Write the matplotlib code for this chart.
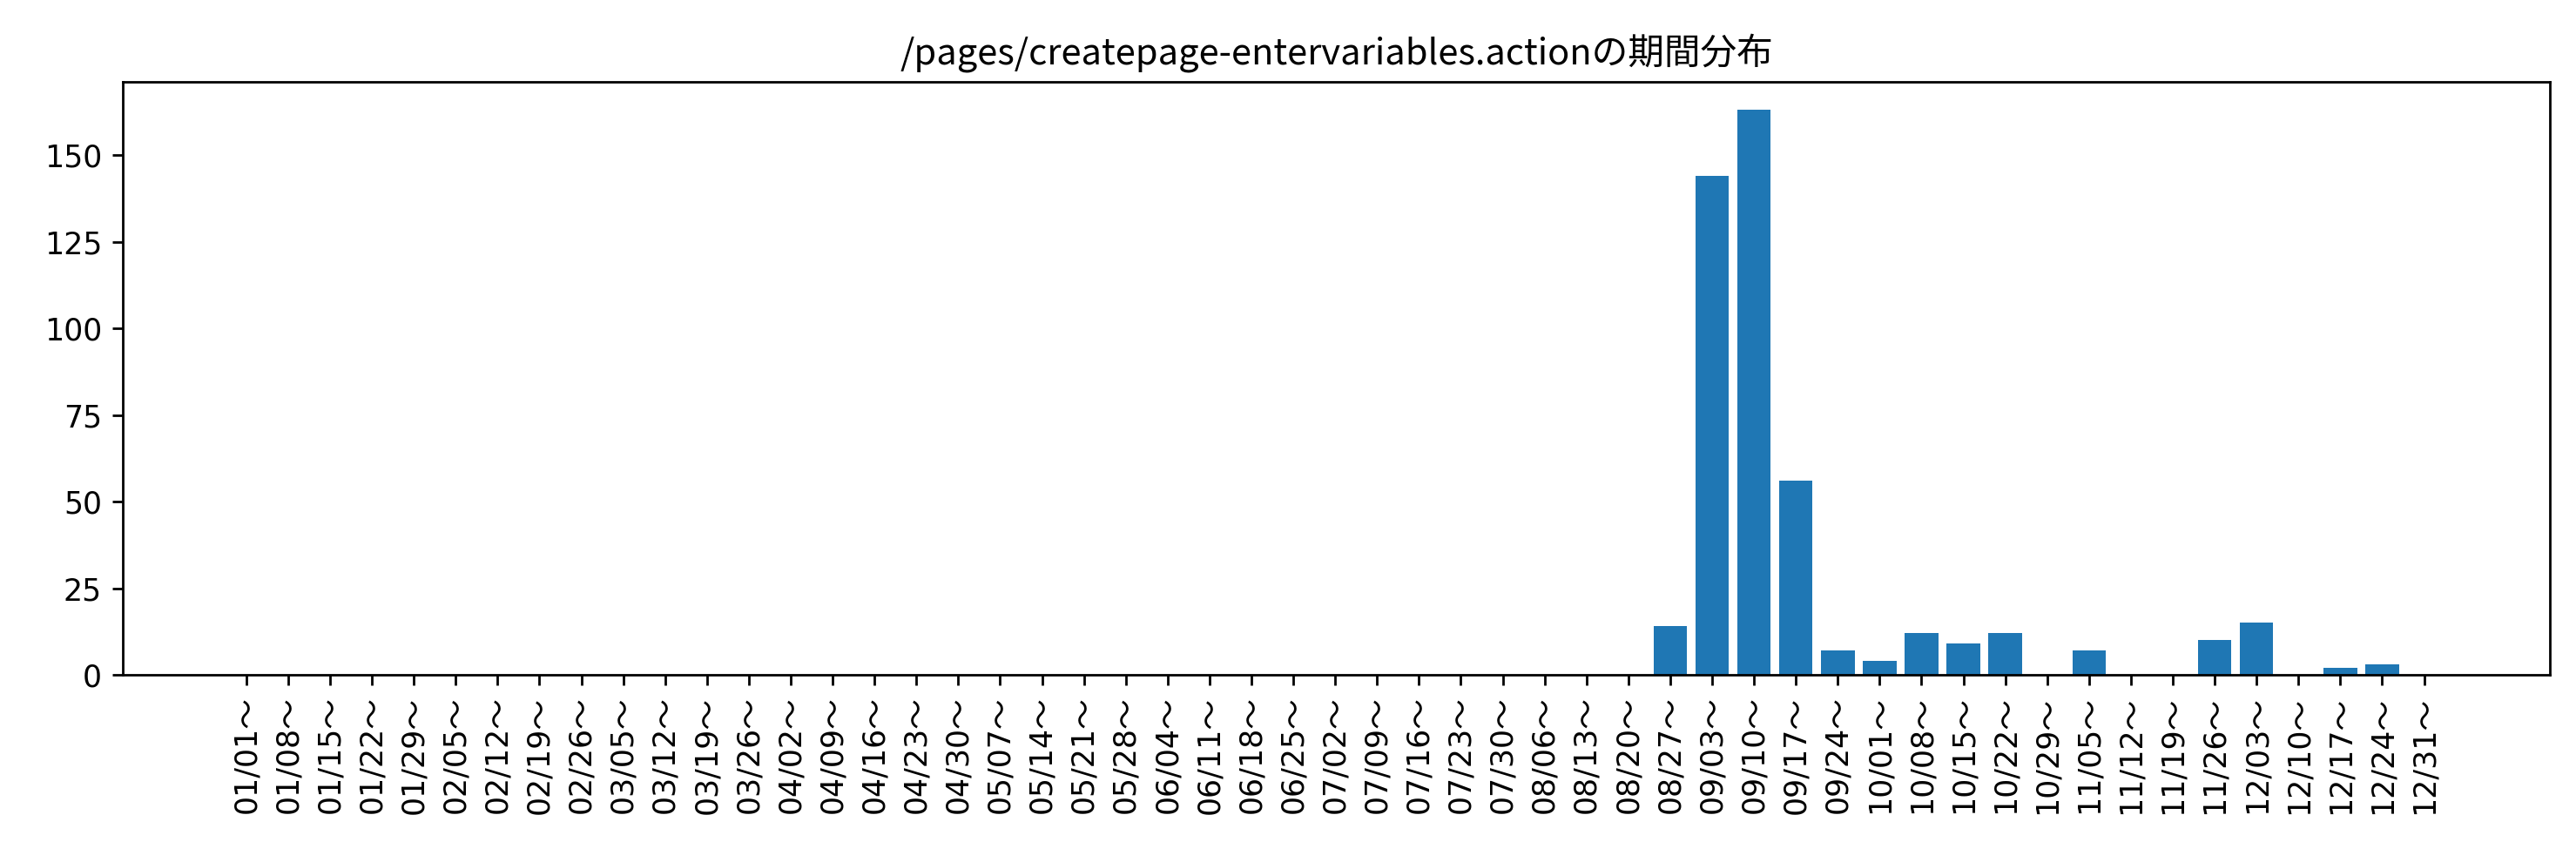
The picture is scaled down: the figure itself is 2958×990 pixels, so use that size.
import matplotlib
matplotlib.use("Agg")
import matplotlib.pyplot as plt
from matplotlib.ticker import MultipleLocator
import datetime as dt

plt.rcParams['font.family'] = ['DejaVu Sans', 'Noto Sans CJK JP']

start = dt.date(2023, 1, 1)
labels = [(start + dt.timedelta(days=7*i)).strftime("%m/%d") + "～" for i in range(53)]
vals = {"08/27": 14, "09/03": 144, "09/10": 163, "09/17": 56, "09/24": 7, "10/01": 4,
        "10/08": 12, "10/15": 9, "10/22": 12, "10/29": 0, "11/05": 7, "11/12": 0,
        "11/19": 0, "11/26": 10, "12/03": 15, "12/10": 0, "12/17": 2, "12/24": 3, "12/31": 0}
values = [vals.get(l[:5], 0) for l in labels]

fig, ax = plt.subplots(figsize=(11.832, 3.96), dpi=250)
ax.bar(range(len(labels)), values, color='#1f77b4')
ax.set_xticks(range(len(labels)))
ax.set_xticklabels(labels, rotation=90)
ax.set_xlim(-2.94, 55.0)
ax.yaxis.set_major_locator(MultipleLocator(25))
ax.set_title("/pages/createpage-entervariables.actionの期間分布", family=['Noto Sans CJK JP'])
fig.subplots_adjust(left=0.0478, right=0.9898, top=0.905, bottom=0.217)
fig.savefig("out.png", dpi=250)
